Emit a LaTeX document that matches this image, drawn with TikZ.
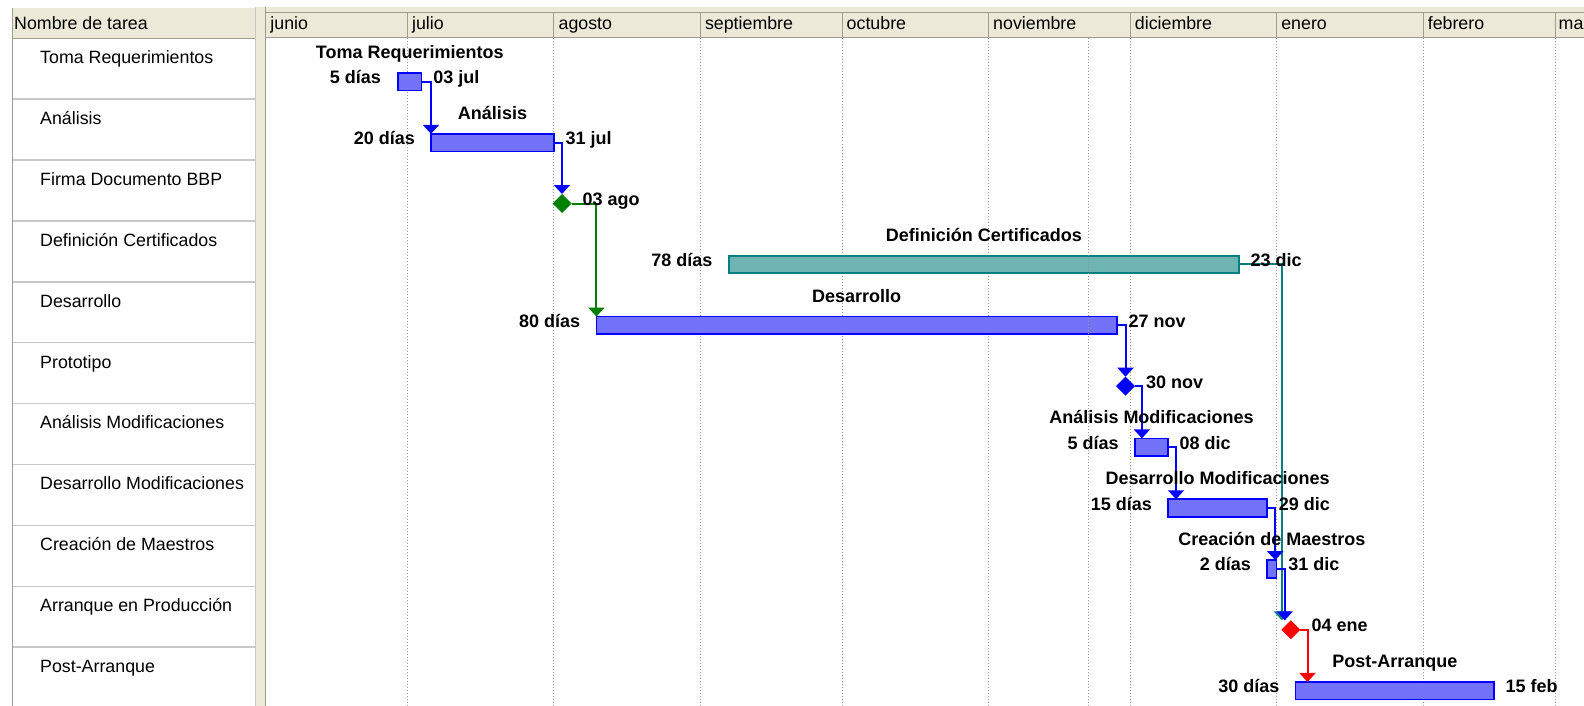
\documentclass[tikz,border=0pt]{standalone}
\usepackage{fontspec}
\setmainfont{Liberation Sans}
\usetikzlibrary{arrows.meta,shapes.geometric}
\definecolor{hdr}{RGB}{236,233,216}
\definecolor{hdrline}{RGB}{160,157,143}
\definecolor{rowline}{RGB}{200,200,200}
\definecolor{barblue}{RGB}{115,115,250}
\definecolor{barteal}{RGB}{110,180,178}
\definecolor{teal2}{RGB}{0,128,128}
\definecolor{green2}{RGB}{0,128,0}
\definecolor{gridc}{RGB}{150,150,150}
\tikzset{
 bar/.style={draw=blue, fill=barblue, line width=1.7pt, inner sep=0pt, outer sep=0pt, minimum height=17.5pt, anchor=west},
 tealbar/.style={bar, draw=teal2, fill=barteal},
 ms/.style={diamond, inner sep=0pt, outer sep=0pt, minimum width=19pt, minimum height=19pt, fill=#1},
 link/.style={draw=#1, line width=2pt, -{Triangle[width=16pt,length=9pt]}},
 tname/.style={anchor=base west, font=\fontsize{17.8}{20}\selectfont, inner sep=0pt},
 lbl/.style={font=\bfseries\fontsize{18}{20}\selectfont, inner sep=0pt},
 nm/.style={lbl, anchor=base},
 dur/.style={lbl, anchor=base east},
 fin/.style={lbl, anchor=base west},
 gridl/.style={draw=gridc, line width=1pt, dash pattern=on 1pt off 2pt},
}
\begin{document}
\begin{tikzpicture}[x=1pt,y=-1pt]
\useasboundingbox (0,0) rectangle (1584,706);
\fill[white] (0,0) rectangle (1584,706);
% left header
\fill[hdr] (12,8) rectangle (255,38.5);
\draw[hdrline, line width=1pt] (12,38.5) -- (255,38.5);
\draw[hdrline, line width=1pt] (12.5,8) -- (12.5,706);
\node[tname] (hname) at (14,29.5) {Nombre de tarea};
% splitter
\fill[hdr] (255,7) rectangle (266,706);
\draw[rowline, line width=1pt] (255.5,7) -- (255.5,706);
\draw[hdrline, line width=1pt] (265.5,7) -- (265.5,706);
% timescale header
\fill[hdr] (266,7) rectangle (1584,38);
\draw[hdrline, line width=1pt] (266,13) -- (1584,13);
\draw[hdrline, line width=1pt] (266,38) -- (1584,38);
\foreach \x in {407.4,553.9,700.3,842.0,988.5,1130.2,1276.6,1423.1,1555.4}
  \draw[hdrline, line width=1pt] (\x,13) -- (\x,38);
\node[tname] (h0) at (270.2,29.5) {junio};
\node[tname] (h1) at (411.9,29.5) {julio};
\node[tname] (h2) at (558.4,29.5) {agosto};
\node[tname] (h3) at (704.8,29.5) {septiembre};
\node[tname] (h4) at (846.5,29.5) {octubre};
\node[tname] (h5) at (993.0,29.5) {noviembre};
\node[tname] (h6) at (1134.7,29.5) {diciembre};
\node[tname] (h7) at (1281.1,29.5) {enero};
\node[tname] (h8) at (1427.6,29.5) {febrero};
\node[tname] (h9) at (1558.5,29.5) {ma};
% left panel rows
\foreach \y in {99.1,160.0,220.9,281.8,342.7,403.6,464.5,525.4,586.3,647.2}
  \draw[rowline, line width=1.5pt] (13,\y) -- (255,\y);
\node[tname] (t0) at (40,63.5) {Toma Requerimientos};
\node[tname] (t1) at (40,124.4) {Análisis};
\node[tname] (t2) at (40,185.3) {Firma Documento BBP};
\node[tname] (t3) at (40,246.2) {Definición Certificados};
\node[tname] (t4) at (40,307.1) {Desarrollo};
\node[tname] (t5) at (40,368.0) {Prototipo};
\node[tname] (t6) at (40,428.9) {Análisis Modificaciones};
\node[tname] (t7) at (40,489.8) {Desarrollo Modificaciones};
\node[tname] (t8) at (40,550.7) {Creación de Maestros};
\node[tname] (t9) at (40,611.6) {Arranque en Producción};
\node[tname] (t10) at (40,672.5) {Post-Arranque};
% grid lines
\foreach \x in {407.4,553.9,700.3,842.0,988.5,1130.2,1276.6,1423.1,1555.4}
  \draw[gridl] (\x,38.5) -- (\x,706);
% bars
\node[bar, minimum width=23.6pt] (b0) at (398.0,81.7) {};
\node[bar, minimum width=122.9pt] (b1) at (431.0,142.6) {};
\node[ms=green2] (m2) at (562,203.5) {};
\node[tealbar, minimum width=510.1pt] (b3) at (728.7,264.4) {};
\node[bar, minimum width=520.6pt] (b4) at (596.4,325.3) {};
\node[ms=blue] (m5) at (1125.5,386.2) {};
\node[bar, minimum width=33.1pt] (b6) at (1134.9,447.1) {};
\node[bar, minimum width=99.2pt] (b7) at (1168.0,508.0) {};
\node[bar, minimum width=9.4pt] (b8) at (1267.2,568.9) {};
\node[ms=red] (m9) at (1290.8,629.8) {};
\node[bar, minimum width=198.5pt] (b10) at (1295.5,690.7) {};
% current date line
\draw[gridl] (1088,38.5) -- (1088,706);
% links
\draw[link=blue] (b0.east) -| (b1.north west);
\draw[link=blue] (b1.east) -| (m2.north);
\draw[link=green2] (m2.east) -| (b4.north west);
\draw[link=teal2] (b3.east) -| ([xshift=-9pt]m9.north);
\draw[link=blue] (b4.east) -| (m5.north);
\draw[link=blue] (m5.east) -| ([xshift=7pt]b6.north west);
\draw[link=blue] (b6.east) -| ([xshift=8pt]b7.north west);
\draw[link=blue] (b7.east) -| ([xshift=8pt]b8.north west);
\draw[link=blue] (b8.east) -| ([xshift=-6pt]m9.north);
\draw[link=red] (m9.east) -| ([xshift=12pt]b10.north west);
% labels
\node[nm] (n0) at (409.8,58.5) {Toma Requerimientos};
\node[dur] (d0) at (381,83.7) {5 días};
\node[fin] (f0) at (433.1,83.7) {03 jul};
\node[nm] (n1) at (492.5,119.4) {Análisis};
\node[dur] (d1) at (415,144.6) {20 días};
\node[fin] (f1) at (565.4,144.6) {31 jul};
\node[fin] (f2) at (582.5,205.5) {03 ago};
\node[nm] (n3) at (983.8,241.2) {Definición Certificados};
\node[dur] (d3) at (712.7,266.4) {78 días};
\node[fin] (f3) at (1250.3,266.4) {23 dic};
\node[nm] (n4) at (856.7,302.1) {Desarrollo};
\node[dur] (d4) at (580.4,327.3) {80 días};
\node[fin] (f4) at (1128.5,327.3) {27 nov};
\node[fin] (f5) at (1146,388.2) {30 nov};
\node[nm] (n6) at (1151.5,423.9) {Análisis Modificaciones};
\node[dur] (d6) at (1118.9,449.1) {5 días};
\node[fin] (f6) at (1179.5,449.1) {08 dic};
\node[nm] (n7) at (1217.6,484.8) {Desarrollo Modificaciones};
\node[dur] (d7) at (1152,510) {15 días};
\node[fin] (f7) at (1278.7,510) {29 dic};
\node[nm] (n8) at (1271.9,545.7) {Creación de Maestros};
\node[dur] (d8) at (1251.2,570.9) {2 días};
\node[fin] (f8) at (1288.1,570.9) {31 dic};
\node[fin] (f9) at (1311.3,631.8) {04 ene};
\node[nm] (n10) at (1394.75,667.5) {Post-Arranque};
\node[dur] (d10) at (1279.5,692.7) {30 días};
\node[fin] (f10) at (1505.5,692.7) {15 feb};
\end{tikzpicture}
\end{document}
